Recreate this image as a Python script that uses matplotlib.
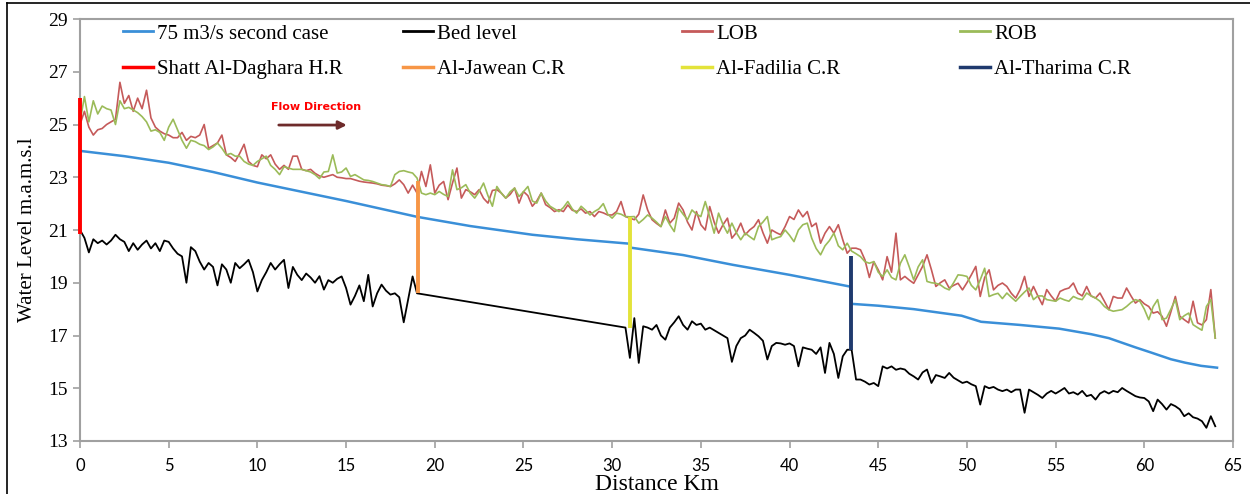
import numpy as np
import matplotlib
matplotlib.use("Agg")
import matplotlib.pyplot as plt
from matplotlib.lines import Line2D

plt.rcParams['font.family'] = ['Liberation Serif', 'DejaVu Serif']

# --- data ---
# LOB / ROB on a 0.25 km grid, 0 .. 64 km
bank_km = np.arange(0, 64.001, 0.25)
lob = [
    25.0, 25.5, 24.9, 24.6, 24.8, 24.85, 25.0, 25.1, 25.2, 26.6, 25.8, 26.1, 25.5, 26.0, 25.6, 26.3, 25.25, 24.9, 24.75, 24.65,
    24.6, 24.5, 24.5, 24.7, 24.4, 24.55, 24.5, 24.6, 25.0, 24.1, 24.2, 24.3, 24.6, 23.85, 23.75, 23.6, 23.9, 24.25, 23.6, 23.45,
    23.4, 23.85, 23.7, 23.85, 23.5, 23.3, 23.45, 23.3, 23.8, 23.8, 23.3, 23.25, 23.3, 23.15, 23.05, 23.0, 23.05, 23.1, 23.0, 22.98,
    22.95, 22.95, 22.9, 22.85, 22.82, 22.8, 22.78, 22.75, 22.7, 22.68, 22.65, 22.75, 22.9, 22.72, 22.4, 22.7, 22.4, 23.22, 22.65, 23.47,
    22.4, 22.7, 22.84, 22.15, 22.78, 23.35, 22.21, 22.53, 22.45, 22.34, 22.53, 22.2, 22.02, 22.5, 22.53, 22.4, 22.21, 22.35, 22.59, 22.02,
    22.46, 22.3, 21.9, 22.1, 22.4, 21.96, 21.85, 21.7, 21.77, 21.7, 21.95, 21.75, 21.7, 21.8, 21.64, 21.7, 21.51, 21.7, 21.65, 21.57,
    21.57, 21.7, 22.08, 21.51, 21.45, 21.39, 21.6, 22.33, 21.76, 21.39, 21.25, 21.13, 21.76, 21.26, 21.45, 22.02, 21.76, 21.3, 21.0, 21.7,
    21.2, 21.0, 21.89, 21.3, 20.88, 21.2, 21.45, 20.69, 20.9, 21.26, 20.82, 21.0, 21.13, 21.39, 20.9, 20.5, 21.0, 20.9, 20.82, 21.13,
    21.51, 21.4, 21.76, 21.5, 21.7, 21.13, 21.26, 20.5, 20.88, 21.13, 20.88, 21.2, 20.63, 20.12, 20.31, 20.31, 20.25, 19.87, 19.2, 19.8,
    19.49, 19.11, 19.99, 19.4, 20.88, 19.11, 19.24, 19.1, 18.98, 19.3, 19.62, 20.06, 19.49, 18.86, 19.0, 19.11, 18.8, 18.9, 18.98, 18.73,
    19.0, 19.3, 19.62, 18.48, 19.2, 19.49, 18.73, 18.9, 18.99, 18.86, 18.6, 18.42, 18.74, 19.24, 18.48, 18.86, 18.5, 18.17, 18.74, 18.5,
    18.3, 18.67, 18.75, 18.8, 18.99, 18.61, 18.5, 18.86, 18.5, 18.42, 18.61, 18.3, 17.98, 18.48, 18.42, 18.42, 18.8, 18.5, 18.23, 18.36,
    18.2, 18.1, 17.85, 17.9, 17.73, 17.35, 17.9, 18.48, 17.73, 17.6, 17.48, 18.3, 17.48, 17.4, 17.6, 18.74, 16.9,
]
rob = [
    25.1, 26.06, 25.1, 25.9, 25.4, 25.7, 25.6, 25.55, 25.0, 25.9, 25.6, 25.65, 25.55, 25.45, 25.3, 25.1, 24.75, 24.8, 24.7, 24.4,
    24.9, 25.2, 24.8, 24.4, 24.1, 24.4, 24.35, 24.25, 24.2, 24.05, 24.15, 24.3, 24.1, 23.85, 23.9, 23.8, 23.8, 23.6, 23.5, 23.45,
    23.6, 23.7, 23.8, 23.45, 23.3, 23.1, 23.4, 23.35, 23.3, 23.3, 23.3, 23.25, 23.2, 23.1, 22.95, 23.2, 23.22, 23.85, 23.16, 23.2,
    23.35, 23.03, 23.1, 23.0, 22.9, 22.88, 22.84, 22.78, 22.72, 22.7, 22.65, 23.1, 23.22, 23.25, 23.2, 23.16, 22.97, 22.4, 22.34, 22.4,
    22.34, 22.46, 22.35, 22.27, 23.28, 22.53, 22.6, 22.72, 22.4, 22.21, 22.46, 22.78, 22.3, 21.9, 22.65, 22.4, 22.21, 22.45, 22.59, 22.27,
    22.45, 22.65, 22.1, 22.02, 22.4, 22.1, 21.9, 21.8, 21.7, 21.85, 22.08, 21.8, 21.64, 21.9, 21.75, 21.57, 21.7, 21.8, 22.0, 21.6,
    21.45, 21.64, 21.6, 21.51, 21.5, 21.51, 21.26, 21.4, 21.57, 21.45, 21.3, 21.13, 21.51, 21.2, 20.94, 21.83, 21.6, 21.39, 21.76, 21.6,
    21.51, 22.08, 21.5, 20.88, 21.64, 21.2, 20.88, 21.26, 20.9, 20.63, 20.88, 20.75, 20.63, 21.13, 21.3, 21.51, 20.63, 20.7, 20.75, 21.0,
    20.8, 20.56, 21.0, 21.2, 21.26, 20.69, 20.3, 20.06, 20.4, 20.6, 20.88, 20.4, 20.25, 20.5, 20.2, 20.1, 19.99, 19.8, 19.74, 19.8,
    19.4, 19.24, 19.49, 19.2, 19.11, 19.74, 20.06, 19.6, 19.11, 19.6, 19.87, 19.05, 19.0, 18.98, 18.92, 18.8, 18.73, 19.0, 19.3, 19.28,
    19.24, 18.9, 18.73, 19.11, 19.55, 18.48, 18.55, 18.6, 18.4, 18.61, 18.45, 18.3, 18.48, 18.65, 18.8, 18.36, 18.5, 18.5, 18.36, 18.33,
    18.3, 18.42, 18.35, 18.3, 18.48, 18.4, 18.36, 18.61, 18.5, 18.42, 18.3, 18.1, 17.98, 17.92, 17.95, 17.98, 18.1, 18.25, 18.36, 18.3,
    18.0, 17.6, 18.1, 18.36, 17.6, 17.66, 18.0, 18.36, 17.6, 17.75, 17.85, 17.41, 17.3, 17.2, 18.1, 18.36, 16.9,
]

# bed level: surveyed 0-19 km and 30.75-64 km (straight between)
bed_km = np.concatenate([np.arange(0, 19.001, 0.25), np.arange(30.75, 64.001, 0.25)])
bed = [
    21.0, 20.7, 20.15, 20.65, 20.5, 20.6, 20.45, 20.6, 20.82, 20.65, 20.55, 20.2, 20.5, 20.25, 20.45, 20.6, 20.3, 20.5, 20.2, 20.6,
    20.55, 20.3, 20.1, 20.0, 19.0, 20.35, 20.2, 19.8, 19.5, 19.75, 19.6, 18.9, 19.7, 19.5, 19.0, 19.75, 19.55, 19.7, 19.87, 19.4,
    18.67, 19.1, 19.4, 19.75, 19.5, 19.7, 19.87, 18.8, 19.6, 19.3, 19.1, 19.35, 19.2, 19.0, 19.25, 18.74, 19.1, 19.0, 19.15, 19.24,
    18.8, 18.17, 18.5, 18.9, 18.3, 19.3, 18.1, 18.6, 18.93, 18.7, 18.55, 18.6, 18.45, 17.5, 18.36, 19.24, 18.6,
    17.3, 16.15, 17.66, 15.96, 17.35,
    17.3, 17.22, 17.4, 17.0, 16.84, 17.3, 17.5, 17.73, 17.4, 17.22, 17.54, 17.4, 17.45, 17.22, 17.3, 17.2, 17.1, 17.0, 16.9, 16.0,
    16.6, 16.9, 17.0, 17.22, 17.1, 16.97, 16.8, 16.09, 16.6, 16.72, 16.7, 16.65, 16.7, 16.6, 15.83, 16.55, 16.5, 16.46, 16.3, 16.55,
    15.58, 16.72, 16.3, 15.39, 16.21, 16.46, 16.46, 15.33, 15.33, 15.25, 15.14, 15.2, 15.08, 15.83, 15.75, 15.83, 15.7, 15.75, 15.71, 15.55,
    15.45, 15.33, 15.6, 15.71, 15.2, 15.5, 15.45, 15.39, 15.58, 15.4, 15.3, 15.2, 15.25, 15.15, 15.08, 14.38, 15.08, 15.0, 15.05, 14.95,
    14.89, 14.95, 14.85, 14.95, 14.95, 14.07, 14.95, 14.85, 14.75, 14.63, 14.8, 14.9, 14.8, 14.9, 15.01, 14.8, 14.85, 14.76, 14.9, 14.7,
    14.75, 14.57, 14.8, 14.89, 14.8, 14.9, 14.85, 15.01, 14.9, 14.8, 14.7, 14.65, 14.63, 14.5, 14.13, 14.57, 14.4, 14.19, 14.4, 14.32,
    14.2, 13.94, 14.05, 13.9, 13.85, 13.75, 13.5, 13.94, 13.56,
]

# water surface, 75 m3/s second case
ws_km = [0, 2.5, 5, 7.5, 10, 12.5, 15, 17, 19, 22, 25.5, 28, 31, 31.05, 34, 36.8, 40, 43.45, 43.5,
         45, 47, 49.7, 50.8, 53, 55.2, 57, 58, 59.5, 60.4, 61.5, 62.3, 63.2, 64.1]
ws = [24.0, 23.8, 23.55, 23.2, 22.8, 22.45, 22.1, 21.8, 21.5, 21.15, 20.82, 20.65, 20.48, 20.33, 20.05, 19.68, 19.3, 18.85, 18.2,
      18.13, 18.0, 17.75, 17.52, 17.4, 17.26, 17.05, 16.9, 16.55, 16.35, 16.1, 15.97, 15.85, 15.78]

# regulators: name, km, bottom, top
struct_names = ['Shatt Al-Daghara H.R', 'Al-Jawean C.R', 'Al-Fadilia C.R', 'Al-Tharima C.R']
struct_km = [0.0, 19.05, 31.0, 43.45]
struct_low = [20.85, 18.6, 17.3, 16.46]
struct_high = [26.0, 22.85, 21.5, 20.0]
struct_colors = ['#FF0000', '#F79646', '#E3E33A', '#1F3A6E']

fig = plt.figure(figsize=(12.5, 4.94), dpi=100)
ax = fig.add_axes([0.064, 0.1073, 0.9224, 0.8542])

l_lob, = ax.plot(bank_km, lob, color='#C55A5A', lw=1.2)
l_rob, = ax.plot(bank_km, rob, color='#9BBB59', lw=1.2)
l_ws, = ax.plot(ws_km, ws, color='#3A8FD8', lw=1.8)
l_bed, = ax.plot(bed_km, bed, color='black', lw=1.3)

s_lines = []
for km, lo, hi, c in zip(struct_km, struct_low, struct_high, struct_colors):
    ln, = ax.plot([km, km], [lo, hi], color=c, lw=2.8, solid_capstyle='butt',
                  zorder=4, clip_on=False)
    s_lines.append(ln)

# flow direction arrow
ax.annotate('', xy=(15.2, 24.98), xytext=(11.05, 24.98),
            arrowprops=dict(arrowstyle='-|>', color='#6E2B2B', lw=2, mutation_scale=12))
ax.text(13.3, 25.67, 'Flow Direction', color='#FF0000', fontsize=8, fontweight='bold',
        ha='center', va='center', family='DejaVu Sans')

ax.set_xlim(0, 65)
ax.set_ylim(13, 29)
ax.set_xticks(np.arange(0, 66, 5))
ax.set_yticks(np.arange(13, 30, 2))
for sp in ax.spines.values():
    sp.set_color('#A0A0A0')
    sp.set_linewidth(1.5)
    sp.set_zorder(1)
ax.tick_params(axis='both', direction='out', length=5, width=1.2, color='#A0A0A0')
ax.tick_params(axis='y', labelsize=14, pad=4)
ax.tick_params(axis='x', labelsize=12, pad=7)
for t in ax.get_xticklabels():
    t.set_family('Lato')

ax.set_xlabel('Distance Km', fontsize=17, labelpad=0)
ax.set_ylabel('Water Level m.a.m.s.l', fontsize=15, labelpad=8)

# legend: 4 columns of 2 rows
cols = [
    ([l_ws, s_lines[0]], ['75 m3/s second case', struct_names[0]]),
    ([l_bed, s_lines[1]], ['Bed level', struct_names[1]]),
    ([l_lob, s_lines[2]], ['LOB', struct_names[2]]),
    ([l_rob, s_lines[3]], ['ROB', struct_names[3]]),
]
col_x = [123, 403, 682, 960]
legs = []
for (hs, labs), px in zip(cols, col_x):
    hh = [Line2D([], [], color=h.get_color(), lw=2.5 if h in s_lines else 2) for h in hs]
    lg = ax.legend(hh, labs, loc='upper left', bbox_to_anchor=(px / 1250, 1 - 24 / 494),
                   bbox_transform=fig.transFigure, frameon=False, fontsize=15,
                   handlelength=1.45, handletextpad=0.2, labelspacing=0.78,
                   borderpad=0, borderaxespad=0)
    legs.append(lg)
for lg in legs[:-1]:
    ax.add_artist(lg)

# outer frame edges
fig.add_artist(Line2D([7 / 1250, 7 / 1250], [0, 1 - 3 / 494], color='black', lw=1.2, transform=fig.transFigure))
fig.add_artist(Line2D([7 / 1250, 1], [1 - 3 / 494, 1 - 3 / 494], color='black', lw=1.2, transform=fig.transFigure))

fig.savefig('out.png', dpi=100)
